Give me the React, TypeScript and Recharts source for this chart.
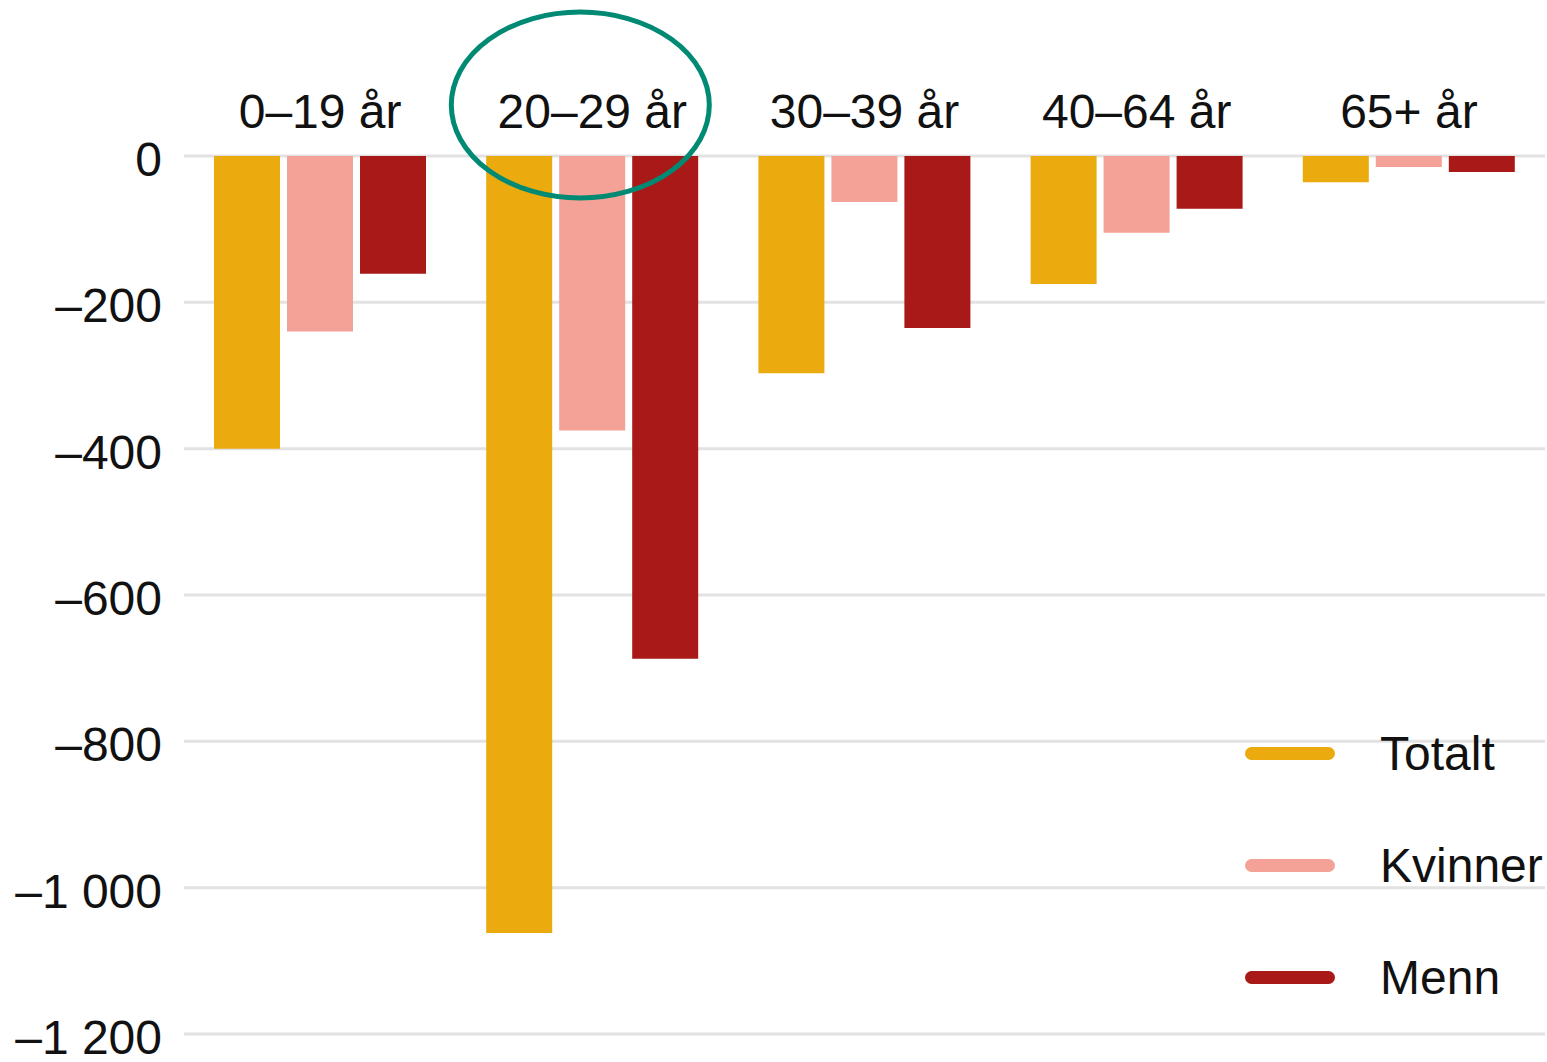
import React from 'react';
import { BarChart, Bar, XAxis, YAxis, CartesianGrid, ReferenceDot } from 'recharts';

const ageGroups = ['0–19 år', '20–29 år', '30–39 år', '40–64 år', '65+ år'];
const totalt = [-400, -1062, -297, -175, -36];
const kvinner = [-240, -375, -63, -105, -15];
const menn = [-161, -687, -235, -72, -22];
const yTicks = [0, -200, -400, -600, -800, -1000, -1200];

const seriesList = [
  { key: 'totalt', name: 'Totalt', color: '#EBAA0E' },
  { key: 'kvinner', name: 'Kvinner', color: '#F4A197' },
  { key: 'menn', name: 'Menn', color: '#A81917' },
];

const FONT = '"Liberation Sans", Arial, sans-serif';

const chartData = ageGroups.map((group, i) => ({
  group,
  totalt: totalt[i],
  kvinner: kvinner[i],
  menn: menn[i],
}));

function fmtTick(v: number) {
  const abs = Math.abs(v);
  const s = abs >= 1000 ? `${Math.floor(abs / 1000)} ${String(abs % 1000).padStart(3, '0')}` : String(abs);
  return v < 0 ? `–${s}` : s;
}

// category labels sit above the zero line
function TopTick({ x, payload }: any) {
  return (
    <text x={x} y={128} textAnchor="middle" fontSize={48} fontFamily={FONT} fill="#111">
      {payload.value}
    </text>
  );
}

function LeftTick({ x, y, payload }: any) {
  return (
    <text x={x - 14} y={y + 20} textAnchor="end" fontSize={48} fontFamily={FONT} fill="#111">
      {fmtTick(payload.value)}
    </text>
  );
}

function Circle({ cx, cy }: any) {
  return <ellipse cx={cx - 12} cy={cy - 51} rx={129} ry={93} fill="none" stroke="#008A74" strokeWidth={5} />;
}

function LegendBox() {
  return (
    <div style={{ position: 'absolute', left: 1245, top: 697, fontFamily: FONT }}>
      {seriesList.map((s) => (
        <div key={s.key} style={{ display: 'flex', alignItems: 'center', height: 112 }}>
          <div style={{ width: 90, height: 13, borderRadius: 7, background: s.color, marginRight: 45 }} />
          <span style={{ fontSize: 48, color: '#111' }}>{s.name}</span>
        </div>
      ))}
    </div>
  );
}

export default function App() {
  return (
    <div style={{ position: 'absolute', left: 0, top: 0, width: 1547, height: 1062, overflow: 'hidden', background: '#fff' }}>
      <BarChart
        width={1547}
        height={1100}
        data={chartData}
        margin={{ top: 0, right: 2, bottom: 66, left: 0 }}
        barCategoryGap="11%"
        barGap={7}
      >
        <CartesianGrid vertical={false} stroke="#e2e2e2" strokeWidth={3} />
        <XAxis
          dataKey="group"
          orientation="top"
          height={156}
          axisLine={false}
          tickLine={false}
          tick={<TopTick />}
          interval={0}
        />
        <YAxis
          type="number"
          domain={[-1200, 0]}
          ticks={yTicks}
          width={184}
          axisLine={false}
          tickLine={false}
          tick={<LeftTick />}
          interval={0}
        />
        {seriesList.map((s) => (
          <Bar key={s.key} dataKey={s.key} name={s.name} fill={s.color} barSize={66} isAnimationActive={false} />
        ))}
        <ReferenceDot x="20–29 år" y={0} r={0} shape={<Circle />} ifOverflow="visible" />
      </BarChart>
      <LegendBox />
    </div>
  );
}
